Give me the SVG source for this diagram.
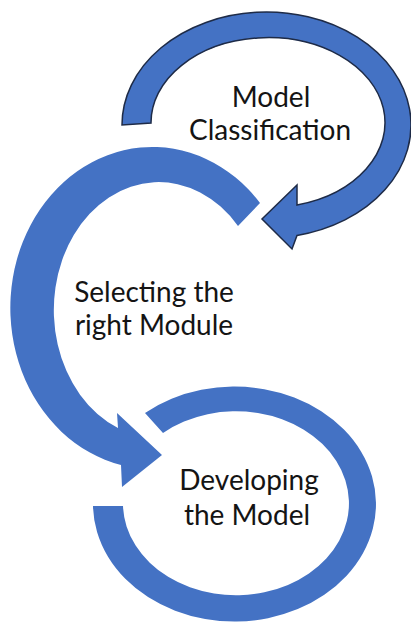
<svg xmlns="http://www.w3.org/2000/svg" width="411" height="625" viewBox="0 0 411 625">
  <style>
    .arrow { fill: #4472C4; }
    .outlined { stroke: #1E2B47; stroke-width: 1.5; stroke-linejoin: miter; }
    .label { font-family: Lato, "Liberation Sans", sans-serif; font-size: 28px; fill: #141414; text-anchor: middle; }
  </style>
  <rect width="411" height="625" fill="#ffffff"/>

  <!-- Stage 1: circular arrow turning clockwise, head pointing back down-left -->
  <g id="model-classification">
    <path class="arrow outlined" d="M 122,125 A 144.5 113 0 1 1 297,235.5 L 292,249 L 262,219 L 297,185 L 297,205 A 117 85 0 1 0 151,123 Z"/>
    <text class="label" x="271" y="107">Model</text>
    <text class="label" x="270" y="140">Classification</text>
  </g>

  <!-- Stage 2: counter-clockwise arc down the left side, head pointing right -->
  <g id="selecting-module">
    <path class="arrow" d="M 260,203 A 142 161 0 1 0 121,465 L 122,487 L 162,455 L 117,413 L 118,428 A 105 128 0 1 1 238,226 Z"/>
    <text class="label" x="154" y="302">Selecting the</text>
    <text class="label" x="154" y="335">right Module</text>
  </g>

  <!-- Stage 3: open ring, no head -->
  <g id="developing-model">
    <path class="arrow" d="M 145,413 A 141.5 117.5 0 1 1 93,506 L 123,506 A 113 92 0 1 0 163,433 Z"/>
    <text class="label" x="249" y="490">Developing</text>
    <text class="label" x="247" y="525">the Model</text>
  </g>
</svg>
